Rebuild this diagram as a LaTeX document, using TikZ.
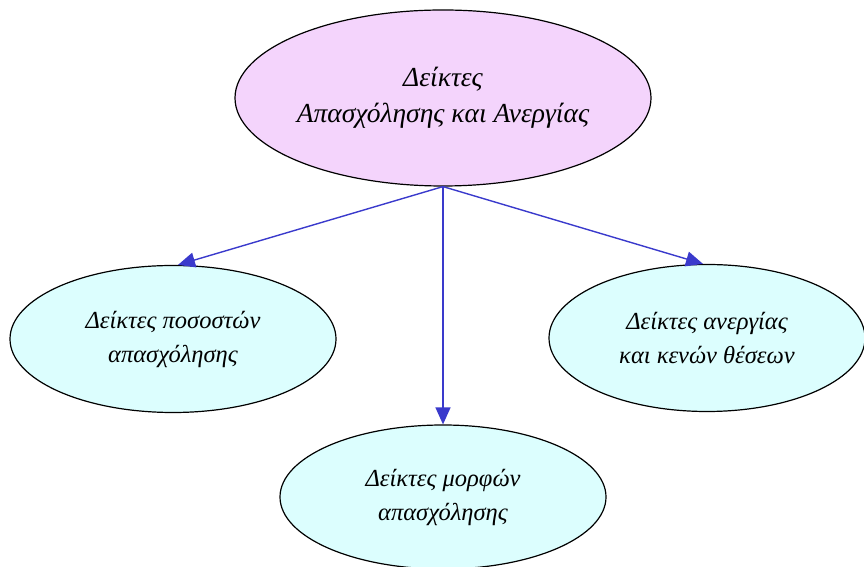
\documentclass[tikz,border=0pt]{standalone}
\usepackage{fontspec}
\setmainfont{Liberation Serif}
\usetikzlibrary{shapes.geometric, arrows.meta}
\definecolor{colortop}{HTML}{F4D4FC}
\definecolor{colorleaf}{HTML}{DCFEFE}
\definecolor{colorarrow}{HTML}{3A3ACC}

\begin{document}
\begin{tikzpicture}[
    x=1pt, y=1pt,
    % Ellipses with italic serif labels
    oval/.style={
        ellipse,
        draw=black,
        line width=1.2pt,
        align=center,
        inner sep=0pt,
        font=\fontsize{24.5}{34}\selectfont\itshape
    },
    rootoval/.style={
        oval,
        fill=colortop,
        minimum width=416pt,
        minimum height=176pt,
        font=\fontsize{27.5}{36}\selectfont\itshape
    },
    leafoval/.style={
        oval,
        fill=colorleaf,
        minimum width=326pt,
        minimum height=147pt
    },
    arrow/.style={
        -{Triangle[length=17pt, width=15pt]},
        colorarrow,
        line width=1.4pt
    }
]
\useasboundingbox (0,0) rectangle (864,567);

% ==============================
% Root
% ==============================
\node[rootoval] (root) at (443,469) {Δείκτες\\Απασχόλησης και Ανεργίας};

% ==============================
% Leaves
% ==============================
\node[leafoval] (rates) at (173,228) {Δείκτες ποσοστών\\απασχόλησης};
\node[leafoval, minimum width=316pt] (unemp) at (707,229) {Δείκτες ανεργίας\\και κενών θέσεων};
\node[leafoval, minimum height=144pt] (forms) at (443,70) {Δείκτες μορφών\\απασχόλησης};

% ==============================
% Arrows
% ==============================
\draw[arrow] (root.south) -- ([xshift=5pt]rates.north);
\draw[arrow] (root.south) -- ([xshift=-4pt]unemp.north);
\draw[arrow] (root.south) -- (forms.north);

\end{tikzpicture}
\end{document}
